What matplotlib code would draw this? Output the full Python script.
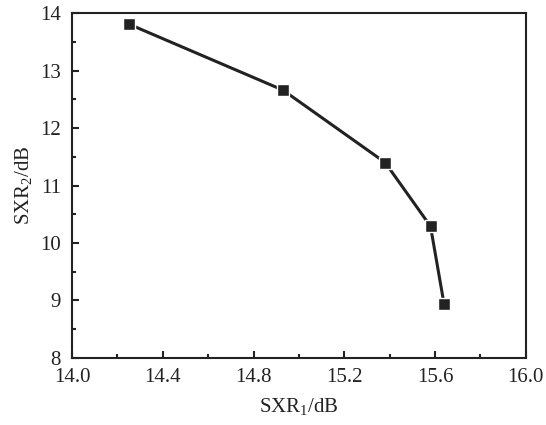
import matplotlib
matplotlib.use('Agg')
import matplotlib.pyplot as plt
import numpy as np
from matplotlib.ticker import MultipleLocator

plt.rcParams['font.family'] = ['Liberation Serif', 'DejaVu Serif']
plt.rcParams['mathtext.fontset'] = 'custom'
plt.rcParams['mathtext.rm'] = 'Liberation Serif'

sxr1 = [14.25, 14.93, 15.38, 15.58, 15.64]
sxr2 = [13.81, 12.66, 11.40, 10.29, 8.93]

fig = plt.figure(figsize=(5.46, 4.25), dpi=100)
ax = fig.add_axes([0.132, 0.158, 0.831, 0.811])
ax.plot(sxr1, sxr2, color='#222222', lw=2.2, marker='s', ms=8.5,
        mec='white', mew=1.0, mfc='#222222')

ax.set_xlim(14.0, 16.0)
ax.set_ylim(8, 14)
ax.xaxis.set_major_locator(MultipleLocator(0.4))
ax.xaxis.set_minor_locator(MultipleLocator(0.2))
ax.yaxis.set_major_locator(MultipleLocator(1))
ax.yaxis.set_minor_locator(MultipleLocator(0.5))
ax.xaxis.set_major_formatter(plt.FormatStrFormatter('%.1f'))
ax.tick_params(which='both', direction='in', top=False, right=False,
               labelsize=15, colors='#222222', width=1.5)
ax.tick_params(axis='y', pad=8)
ax.tick_params(axis='x', pad=7)
ax.tick_params(which='major', length=5)
ax.tick_params(which='minor', length=3)
for s in ax.spines.values():
    s.set_linewidth(1.5)
    s.set_color('#222222')

ax.set_xlabel('SXR$_1$/dB', fontsize=15, color='#222222', labelpad=7)
ax.set_ylabel('SXR$_2$/dB', fontsize=15, color='#222222', labelpad=4)

fig.savefig('out.png', dpi=100)
